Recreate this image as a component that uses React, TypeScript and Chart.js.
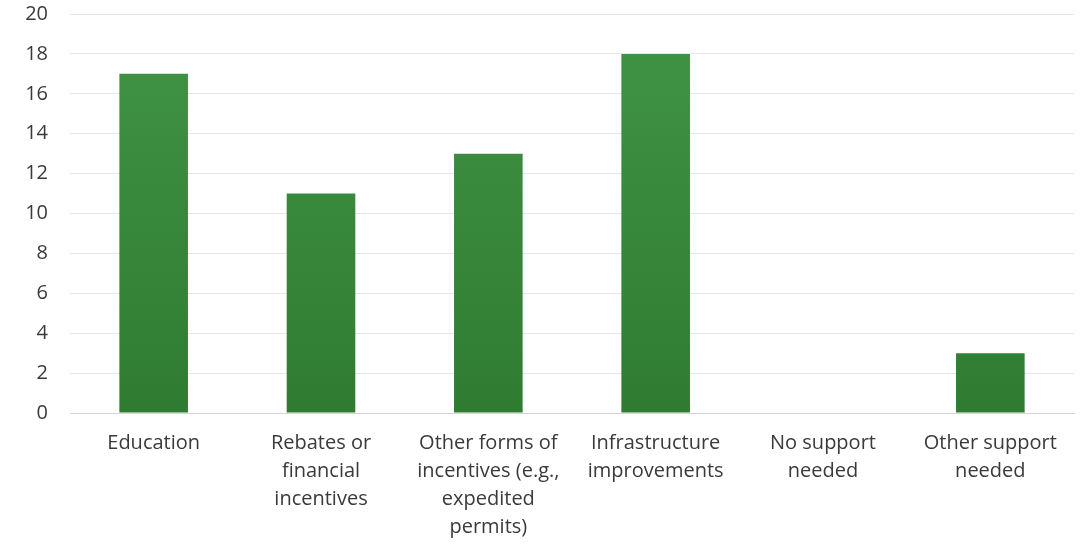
import React, { useEffect, useRef } from "react";
import { Chart, registerables } from "chart.js";

Chart.register(...registerables);

const categories: string[][] = [
  ["Education"],
  ["Rebates or", "financial", "incentives"],
  ["Other forms of", "incentives (e.g.,", "expedited", "permits)"],
  ["Infrastructure", "improvements"],
  ["No support", "needed"],
  ["Other support", "needed"],
];
const values: number[] = [17, 11, 13, 18, 0, 3];
const yMin = 0;
const yMax = 20;
const yStep = 2;

export default function App() {
  const ref = useRef<HTMLCanvasElement | null>(null);

  useEffect(() => {
    if (!ref.current) return;
    const chart = new Chart(ref.current, {
      type: "bar",
      data: {
        labels: categories,
        datasets: [
          {
            data: values,
            backgroundColor: (ctx: any) => {
              const area = ctx.chart.chartArea;
              if (!area) return "#3b8c3b";
              const g = ctx.chart.ctx.createLinearGradient(0, area.top, 0, area.bottom);
              g.addColorStop(0, "#419445");
              g.addColorStop(1, "#2f7c31");
              return g;
            },
            borderWidth: 0,
            categoryPercentage: 1,
            barPercentage: 0.41,
          },
        ],
      },
      options: {
        animation: false,
        responsive: true,
        maintainAspectRatio: false,
        layout: { padding: { top: 14, right: 16, left: 0, bottom: 0 } },
        plugins: { legend: { display: false }, tooltip: { enabled: false } },
        scales: {
          x: {
            grid: { display: false, drawTicks: false },
            border: { display: true, color: "#d6d6d6", width: 1 },
            ticks: {
              color: "#3a3a3a",
              font: { family: "'Open Sans', sans-serif", size: 20, lineHeight: 1.4 },
              padding: 16,
              maxRotation: 0,
              autoSkip: false,
            },
            afterFit: (scale: any) => {
              scale.height = 139;
              scale.paddingLeft = 0;
              scale.paddingRight = 0;
            },
          },
          y: {
            min: yMin,
            max: yMax,
            grid: { color: "#e6e6e6", drawTicks: false },
            border: { display: false },
            ticks: {
              stepSize: yStep,
              color: "#3a3a3a",
              font: { family: "'Open Sans', sans-serif", size: 20 },
              padding: 22,
            },
            afterFit: (scale: any) => {
              scale.width = 70;
              scale.paddingTop = 0;
              scale.paddingBottom = 0;
            },
          },
        },
      },
    });
    return () => chart.destroy();
  }, []);

  return (
    <div style={{ position: "fixed", left: 0, top: 0, width: 1090, height: 552, background: "#fff" }}>
      <canvas ref={ref} />
    </div>
  );
}
